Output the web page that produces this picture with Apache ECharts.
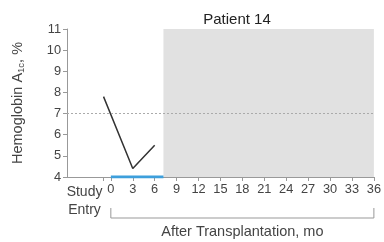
<!DOCTYPE html>
<html><head><meta charset="utf-8">
<script src="https://cdn.jsdelivr.net/npm/echarts@6/dist/echarts.min.js"></script>
<style>html,body{margin:0;padding:0;background:#fff}#c{width:384px;height:242px}</style>
</head><body><div id="c"></div>
<script>
// Data
var months = [-1, 3, 6];               // -1 = study entry
var hba1c = [7.8, 4.4, 5.5];
var insulinIndependence = [[0, 4], [7.2, 4]];
var shadedFrom = 7.2, shadedTo = 36;
var targetLevel = 7;
var xTickLabels = [0,3,6,9,12,15,18,21,24,27,30,33,36];
var xTickValues = [-1,0,3,6,9,12,15,18,21,24,27,30,33,36];
var studyEntryLabelPos = -3.6;
var title = 'Patient 14';

var font = 'Liberation Sans, Arial, Helvetica, sans-serif';
var chart = echarts.init(document.getElementById('c'));
var option = {
  animation: false,
  title: {text: title, left: 232, top: 7, textAlign: 'center',
    textStyle: {fontFamily: font, fontSize: 15, fontWeight: 'normal', color: '#222'}},
  grid: {left: 67, right: 8, top: 29, bottom: 65},
  xAxis: {
    type: 'value', min: -6, max: 36, interval: 3,
    splitLine: {show: false},
    axisLine: {onZero: false, lineStyle: {color: '#999', width: 1}},
    axisTick: {show: true, length: 4, lineStyle: {color: '#999'}, customValues: xTickValues},
    axisLabel: {color: '#444', fontFamily: font, fontSize: 12.8, margin: 6,
      customValues: xTickLabels.concat([studyEntryLabelPos]),
      formatter: function(v){ return v < 0 ? '{se|Study}\n{se|Entry}' : String(v); },
      rich: {se: {fontFamily: font, fontSize: 14, color: '#444', lineHeight: 18}}}
  },
  yAxis: {
    type: 'value', min: 4, max: 11, interval: 1,
    splitLine: {show: false},
    axisLine: {show: true, onZero: false, lineStyle: {color: '#999', width: 1}},
    axisTick: {show: true, length: 4, lineStyle: {color: '#999'}},
    axisLabel: {color: '#444', fontFamily: font, fontSize: 12.8, margin: 6},
    name: '{m|Hemoglobin A}{s|1c}{m|, %}',
    nameLocation: 'middle', nameGap: 41,
    nameTextStyle: {fontFamily: font, color: '#444',
      rich: {m: {fontFamily: font, fontSize: 14.5, color: '#444'},
             s: {fontFamily: font, fontSize: 9.5, color: '#444', padding: [7, 0, 0, 0]}}}
  },
  series: [
    {type: 'line', data: [[shadedFrom, 4],[shadedTo, 4]], symbol: 'none', lineStyle: {opacity: 0}, silent: true,
     markArea: {silent: true, itemStyle: {color: '#e1e1e1'}, data: [[{xAxis: shadedFrom}, {xAxis: shadedTo}]]},
     markLine: {silent: true, symbol: 'none', label: {show: false},
       lineStyle: {color: '#aaa', type: [2, 2], width: 1}, data: [{yAxis: targetLevel}]}, z: 1},
    {type: 'line', data: months.map(function(m,i){return [m, hba1c[i]];}), symbol: 'none',
     lineStyle: {color: '#333', width: 1.5}, z: 3},
    {type: 'line', data: insulinIndependence, symbol: 'none',
     lineStyle: {color: '#3d9fdc', width: 3}, z: 4}
  ]
};
chart.setOption(option);

// bracket under "After Transplantation" ticks
var p0 = chart.convertToPixel({gridIndex: 0}, [0, 4]);
var p1 = chart.convertToPixel({gridIndex: 0}, [36, 4]);
var yb = p0[1] + 41, yt = p0[1] + 31;
chart.setOption({graphic: [
  {type: 'polyline', shape: {points: [[p0[0], yt], [p0[0], yb], [p1[0], yb], [p1[0], yt]]},
   style: {stroke: '#999', lineWidth: 1, fill: null}},
  {type: 'text', x: (p0[0] + p1[0]) / 2, y: yb + 6,
   style: {text: 'After Transplantation, mo', fontFamily: font, fontSize: 14.5, fill: '#444', textAlign: 'center'}}
]});
</script></body></html>
